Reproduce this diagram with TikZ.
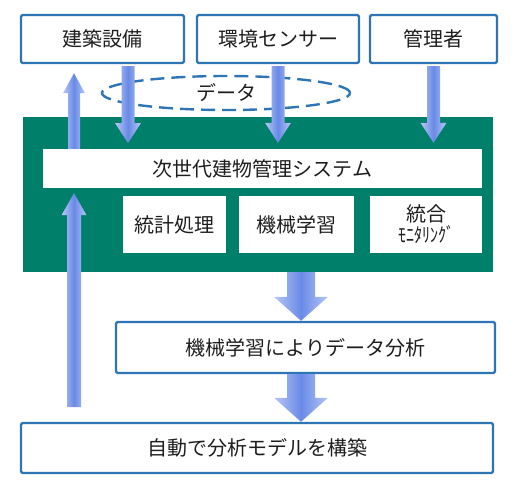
\documentclass[tikz,border=0pt]{standalone}
\usepackage{fontspec}
\setmainfont{Noto Sans CJK JP}
\usetikzlibrary{positioning, calc, shapes.geometric}
\definecolor{FrameBlue}{RGB}{46,117,182}
\definecolor{PanelGreen}{RGB}{0,128,106}
\definecolor{ArrowLight}{RGB}{184,198,246}
\definecolor{ArrowDark}{RGB}{104,138,230}
\definecolor{TextDark}{RGB}{30,30,30}
\tikzset{
  framebox/.style={draw=FrameBlue, line width=2.4pt, fill=white, rounded corners=1.5pt,
    text=TextDark, font=\fontsize{20}{24}\selectfont, inner sep=0pt},
  innerbox/.style={fill=white, text=TextDark, font=\fontsize{20}{24}\selectfont, inner sep=0pt},
  arrowfill/.style={left color=ArrowLight, right color=ArrowLight, middle color=ArrowDark},
}
% block arrow: start, tip, shaft half width, head half width, signed head length
\newcommand{\blkarrow}[5]{%
  \path[arrowfill] let \p1=(#1), \p2=(#2) in
    (\x1-#3,\y1) -- (\x1+#3,\y1) -- (\x1+#3,\y2+#5) -- (\x1+#4,\y2+#5) --
    (\x1,\y2) -- (\x1-#4,\y2+#5) -- (\x1-#3,\y2+#5) -- cycle;}
\begin{document}
\begin{tikzpicture}[x=1pt, y=-1pt]
  \useasboundingbox (0,0) rectangle (525,498);
  % Sources
  \node[framebox, minimum width=163, minimum height=48] (equip) at (102.5,39) {建築設備};
  \node[framebox, minimum width=162, minimum height=48] (sensor) at (278,39) {環境センサー};
  \node[framebox, minimum width=127, minimum height=48] (admin) at (433.5,39) {管理者};
  % Data ellipse
  \node[ellipse, draw=FrameBlue, line width=2.4pt, dash pattern=on 14pt off 7pt,
    minimum width=248, minimum height=34, inner sep=0pt, text=TextDark,
    font=\fontsize{20}{24}\selectfont] (data) at (226,93) {データ};
  % System panel
  \node[fill=PanelGreen, minimum width=470, minimum height=155, inner sep=0pt] (panel) at (258,194.5) {};
  \node[innerbox, minimum width=439, minimum height=39] (system) at (262.5,168.5) {次世代建物管理システム};
  \node[innerbox, minimum width=103, minimum height=57] (stat) at (174.5,224.5) {統計処理};
  \node[innerbox, minimum width=115, minimum height=57] (ml) at (296.5,224.5) {機械学習};
  \node[innerbox, minimum width=112, minimum height=57, align=center] (monitor) at (426,224.5)
    {統合\\[-3pt]\scalebox{0.8}[1]{ﾓﾆﾀﾘﾝｸﾞ}};
  % Results
  \node[framebox, minimum width=379, minimum height=51] (analysis) at (305.5,347.5) {機械学習によりデータ分析};
  \node[framebox, minimum width=472, minimum height=50] (build) at (257,448) {自動で分析モデルを構築};
  % Anchor points for the arrows
  \coordinate (d1) at (128,143);
  \coordinate (up) at (74,0);
  \coordinate (big) at (301,0);
  \coordinate (feed) at (74,407);
  % Data in
  \blkarrow{$(equip.south -| d1)+(0,2)$}{d1}{6.5pt}{13pt}{20pt}
  \blkarrow{$(sensor.south)+(0,2)$}{$(system.north -| sensor)+(0,-6)$}{6.5pt}{13pt}{20pt}
  \blkarrow{$(admin.south)+(0,2)$}{$(system.north -| admin)+(0,-6)$}{6.5pt}{13pt}{20pt}
  % Control out
  \blkarrow{system.north -| up}{$(equip.south -| up)+(0,9)$}{6pt}{11pt}{-20pt}
  \blkarrow{feed}{$(system.south -| up)+(0,5)$}{7pt}{12.5pt}{-22pt}
  % Flow down
  \blkarrow{panel.south -| big}{analysis.north -| big}{14pt}{27pt}{24pt}
  \blkarrow{analysis.south -| big}{build.north -| big}{14pt}{27pt}{24pt}
\end{tikzpicture}
\end{document}
